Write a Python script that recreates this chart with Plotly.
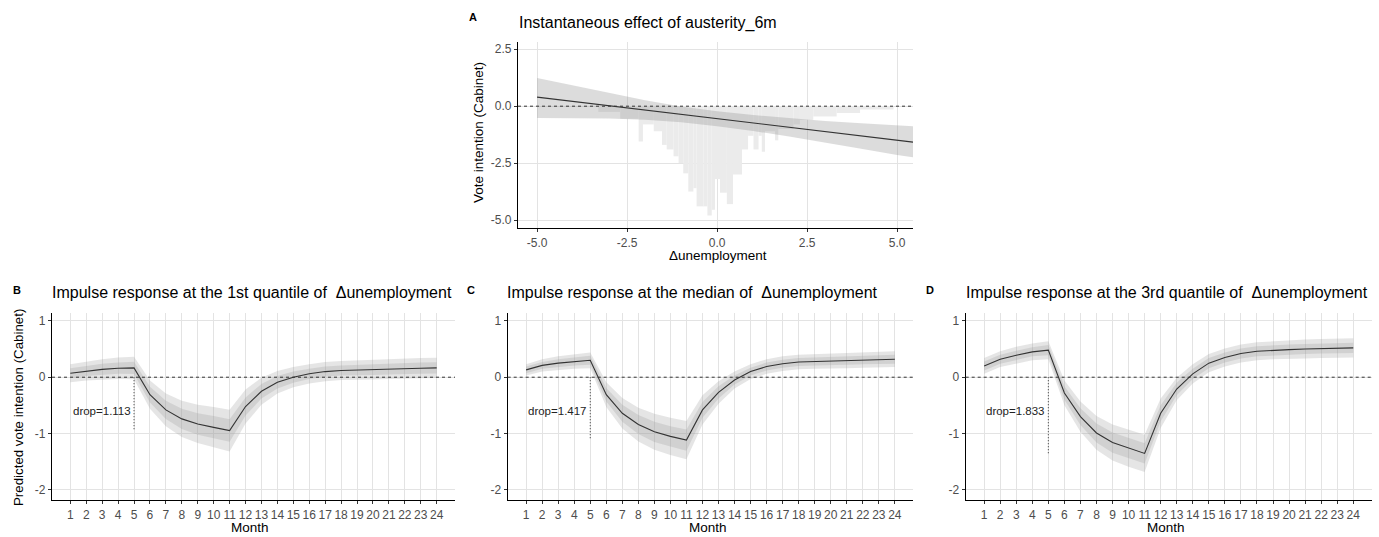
import plotly.graph_objects as go

# ---------------- data ----------------
# Panel A: instantaneous effect (linear marginal effect + CI band)
a_x = [-5.0, -4.0, -3.0, -2.0, -1.0, 0.0, 1.0, 2.0, 3.0, 4.0, 5.0, 5.44]
a_fit = [0.40, 0.21, 0.02, -0.17, -0.36, -0.55, -0.74, -0.93, -1.12, -1.31, -1.50, -1.58]
a_hi = [1.24, 0.92, 0.58, 0.26, -0.01, -0.22, -0.39, -0.53, -0.65, -0.75, -0.86, -0.88]
a_lo = [-0.52, -0.52, -0.54, -0.60, -0.71, -0.88, -1.09, -1.33, -1.59, -1.87, -2.14, -2.24]

# Histogram of Δunemployment drawn downward from 0
hist_left = [-3.30, -2.69, -2.18, -2.06, -1.76, -1.53, -1.40, -1.21, -1.07, -0.94, -0.80,
             -0.66, -0.57, -0.38, -0.27, -0.15, -0.06, 0.08, 0.27, 0.44, 0.69, 0.86, 1.01,
             1.15, 1.24, 1.33, 1.61, 1.70, 2.12, 2.30, 2.67, 3.32, 3.97]
hist_right = [-2.69, -2.18, -2.06, -1.76, -1.53, -1.40, -1.21, -1.07, -0.94, -0.80, -0.66,
              -0.57, -0.38, -0.27, -0.15, -0.06, 0.08, 0.27, 0.44, 0.69, 0.86, 1.01, 1.15,
              1.24, 1.33, 1.61, 1.70, 2.12, 2.30, 2.67, 3.32, 3.97, 4.90]
hist_h = [-0.25, -0.55, -1.55, -0.8, -1.1, -1.7, -1.9, -2.2, -2.5, -2.95, -3.75,
          -3.6, -4.4, -4.4, -4.8, -4.55, -3.2, -3.8, -4.3, -3.0, -1.9, -1.3, -1.9,
          -1.3, -2.0, -1.1, -1.5, -1.0, -0.8, -0.6, -0.45, -0.3, -0.15]

months = [1, 2, 3, 4, 5, 6, 7, 8, 9, 10, 11, 12, 13, 14, 15, 16, 17, 18, 19, 20, 21, 22, 23, 24]
month_labels = [str(m) for m in months]

b_val = [0.07, 0.11, 0.14, 0.16, 0.165, -0.31, -0.58, -0.74, -0.83, -0.89, -0.948, -0.52,
         -0.25, -0.09, 0.00, 0.06, 0.10, 0.12, 0.13, 0.14, 0.15, 0.16, 0.16, 0.165]
b_outer = [0.16, 0.17, 0.18, 0.19, 0.20, 0.25, 0.29, 0.32, 0.34, 0.36, 0.37, 0.30,
           0.24, 0.20, 0.18, 0.17, 0.17, 0.17, 0.17, 0.18, 0.18, 0.18, 0.18, 0.18]
b_inner = [0.09, 0.09, 0.10, 0.10, 0.11, 0.14, 0.16, 0.18, 0.19, 0.20, 0.20, 0.16,
           0.13, 0.11, 0.10, 0.09, 0.09, 0.09, 0.09, 0.10, 0.10, 0.10, 0.10, 0.10]

c_val = [0.13, 0.21, 0.25, 0.28, 0.30, -0.31, -0.64, -0.84, -0.97, -1.05, -1.117, -0.58,
         -0.27, -0.05, 0.10, 0.19, 0.24, 0.27, 0.28, 0.29, 0.30, 0.31, 0.32, 0.32]
c_outer = [0.10, 0.11, 0.12, 0.13, 0.14, 0.22, 0.27, 0.30, 0.32, 0.33, 0.34, 0.26,
           0.20, 0.15, 0.13, 0.13, 0.13, 0.13, 0.13, 0.13, 0.14, 0.14, 0.14, 0.14]
c_inner = [0.06, 0.06, 0.07, 0.07, 0.08, 0.12, 0.15, 0.17, 0.18, 0.18, 0.19, 0.14,
           0.11, 0.08, 0.07, 0.07, 0.07, 0.07, 0.07, 0.07, 0.08, 0.08, 0.08, 0.08]

d_val = [0.20, 0.32, 0.39, 0.45, 0.48, -0.28, -0.70, -0.99, -1.16, -1.26, -1.353, -0.64,
         -0.21, 0.06, 0.25, 0.35, 0.42, 0.46, 0.48, 0.49, 0.50, 0.51, 0.52, 0.52]
d_outer = [0.14, 0.14, 0.15, 0.15, 0.16, 0.22, 0.27, 0.30, 0.32, 0.33, 0.33, 0.26,
           0.20, 0.17, 0.16, 0.16, 0.16, 0.16, 0.16, 0.16, 0.17, 0.17, 0.17, 0.17]
d_inner = [0.08, 0.08, 0.08, 0.08, 0.09, 0.12, 0.15, 0.17, 0.18, 0.18, 0.18, 0.14,
           0.11, 0.09, 0.09, 0.09, 0.09, 0.09, 0.09, 0.09, 0.09, 0.09, 0.09, 0.09]

drop_labels = ["drop=1.113", "drop=1.417", "drop=1.833"]
drop_month = 5

panel_titles = ["Instantaneous effect of austerity_6m",
                "Impulse response at the 1st quantile of  \u0394unemployment",
                "Impulse response at the median of  \u0394unemployment",
                "Impulse response at the 3rd quantile of  \u0394unemployment"]
panel_letters = ["A", "B", "C", "D"]

# ---------------- figure ----------------
FONT = "Liberation Sans, Arial, Helvetica, sans-serif"
W, H = 1379, 537
LINE = "#333333"

fig = go.Figure()

# Panel A
centers = [(l + r) / 2 for l, r in zip(hist_left, hist_right)]
widths = [(r - l) for l, r in zip(hist_left, hist_right)]
fig.add_trace(go.Bar(x=centers, y=hist_h, width=widths, base=0,
                     marker=dict(color="#ebebeb", line=dict(width=0)),
                     xaxis="x", yaxis="y", hoverinfo="skip"))
fig.add_trace(go.Scatter(x=a_x + a_x[::-1], y=a_hi + a_lo[::-1], fill="toself",
                         fillcolor="rgba(140,140,140,0.30)", line=dict(width=0),
                         mode="lines", xaxis="x", yaxis="y", hoverinfo="skip"))
fig.add_trace(go.Scatter(x=a_x, y=a_fit, mode="lines", line=dict(color=LINE, width=1.1),
                         xaxis="x", yaxis="y"))

panels = [(b_val, b_outer, b_inner), (c_val, c_outer, c_inner), (d_val, d_outer, d_inner)]
for i, (val, outer, inner) in enumerate(panels):
    xa, ya = "x%d" % (i + 2), "y%d" % (i + 2)
    o_hi = [v + w for v, w in zip(val, outer)]
    o_lo = [v - w for v, w in zip(val, outer)]
    i_hi = [v + w for v, w in zip(val, inner)]
    i_lo = [v - w for v, w in zip(val, inner)]
    for hi, lo in ((o_hi, o_lo), (i_hi, i_lo)):
        fig.add_trace(go.Scatter(x=months + months[::-1], y=hi + lo[::-1], fill="toself",
                                 fillcolor="rgba(150,150,150,0.25)", line=dict(width=0),
                                 mode="lines", xaxis=xa, yaxis=ya, hoverinfo="skip"))
    fig.add_trace(go.Scatter(x=months, y=val, mode="lines", line=dict(color=LINE, width=1.1),
                             xaxis=xa, yaxis=ya))
    vmin = min(val)
    fig.add_trace(go.Scatter(x=[drop_month, drop_month], y=[0, vmin], mode="lines",
                             line=dict(color=LINE, width=1, dash="1px,2px"),
                             xaxis=xa, yaxis=ya))
    fig.add_annotation(x=drop_month - 0.08, y=-0.6, xref=xa, yref=ya, text=drop_labels[i],
                       showarrow=False, xanchor="right", yanchor="middle",
                       font=dict(family=FONT, size=11.5, color="#222222"))

# zero lines
for ref in ["", "2", "3", "4"]:
    fig.add_shape(type="line", xref="x%s domain" % ref, yref="y%s" % ref,
                  x0=0, x1=1, y0=0, y1=0,
                  line=dict(color=LINE, width=1, dash="3px,3px"))

axis_common = dict(showline=True, linecolor="black", linewidth=1.2, ticks="outside",
                   ticklen=3, tickcolor=LINE, tickwidth=1, showgrid=True,
                   gridcolor="#e3e3e3", gridwidth=1, zeroline=False,
                   tickfont=dict(family=FONT, size=12, color="#4d4d4d"))

def px_x(a, b):
    return [a / W, b / W]

def px_y(top, bottom):
    return [1 - bottom / H, 1 - top / H]

layout = dict(
    template="none",
    width=W, height=H, margin=dict(l=0, r=0, t=0, b=0),
    plot_bgcolor="white", paper_bgcolor="white", showlegend=False,
    xaxis=dict(domain=px_x(518, 913), range=[-5.53, 5.44], anchor="y",
               tickvals=[-5, -2.5, 0, 2.5, 5], ticktext=["-5.0", "-2.5", "0.0", "2.5", "5.0"],
               **axis_common),
    yaxis=dict(domain=px_y(42, 228), range=[-5.35, 2.82], anchor="x",
               tickvals=[2.5, 0, -2.5, -5], ticktext=["2.5", "0.0", "-2.5", "-5.0"],
               **axis_common),
)
x_doms = [(52, 455), (507.7, 913.3), (965.7, 1371.7)]
for i, (a, b) in enumerate(x_doms):
    n = i + 2
    layout["xaxis%d" % n] = dict(domain=px_x(a, b), range=[-0.15, 25.15], anchor="y%d" % n,
                                 tickvals=months, ticktext=month_labels, **axis_common)
    layout["yaxis%d" % n] = dict(domain=px_y(313, 500), range=[-2.18, 1.14], anchor="x%d" % n,
                                 tickvals=[1, 0, -1, -2], ticktext=["1", "0", "-1", "-2"],
                                 **axis_common)
fig.update_layout(**layout)

def ann(x, y, text, size=12, color="black", xanchor="center", angle=0, bold=False):
    fig.add_annotation(x=x / W, y=1 - y / H, xref="paper", yref="paper",
                       text="<b>%s</b>" % text if bold else text, showarrow=False,
                       xanchor=xanchor, yanchor="middle", textangle=angle,
                       font=dict(family=FONT, size=size, color=color))

# titles and letters
ann(517, 23, panel_titles[0], size=16, xanchor="left")
ann(50, 292, panel_titles[1], size=16, xanchor="left")
ann(505, 292, panel_titles[2], size=16, xanchor="left")
ann(964, 292, panel_titles[3], size=16, xanchor="left")
ann(473, 17, panel_letters[0], size=11, bold=True)
ann(17, 290, panel_letters[1], size=11, bold=True)
ann(471, 290, panel_letters[2], size=11, bold=True)
ann(930, 290, panel_letters[3], size=11, bold=True)

# axis titles
ann(478, 133, "Vote intention (Cabinet)", size=13.5, angle=-90)
ann(718, 255, "\u0394unemployment", size=13.5)
ann(18, 408, "Predicted vote intention (Cabinet)", size=13.3, angle=-90)
ann(250, 527, "Month", size=13.5)
ann(708, 527, "Month", size=13.5)
ann(1166, 527, "Month", size=13.5)

fig.write_html("out.html", config={"displayModeBar": False},
               post_script="document.body.style.margin='0px';document.body.style.overflow='hidden';")
